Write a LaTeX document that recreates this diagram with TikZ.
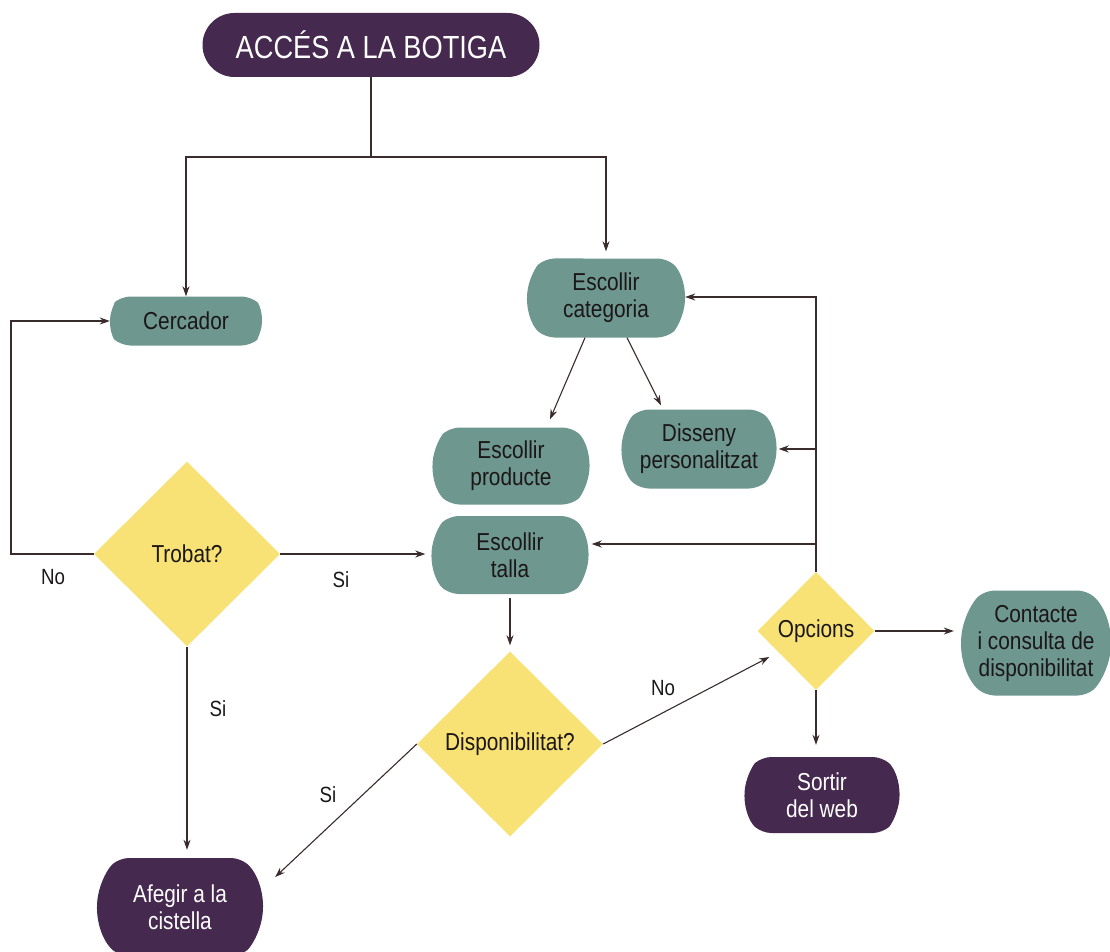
\documentclass[tikz,border=0pt]{standalone}
\usepackage{fontspec}
\setmainfont[FakeStretch=0.85]{Liberation Sans}
\usetikzlibrary{shapes.geometric,shapes.misc,arrows.meta}

\definecolor{plum}{HTML}{46294F}
\definecolor{sage}{HTML}{6E978F}
\definecolor{sun}{HTML}{F8E276}
\definecolor{ink}{HTML}{1B1717}
\definecolor{wire}{HTML}{3A2C2C}

\tikzset{
  every node/.style={font=\fontsize{24.5}{27}\selectfont, align=center, inner sep=0pt},
  boxshape/.style={rounded rectangle, rounded rectangle arc length=100, rounded corners=9pt, draw=none},
  tealbox/.style={boxshape, fill=sage, text=ink},
  plumbox/.style={boxshape, fill=plum, text=white},
  decision/.style={diamond, fill=sun, text=ink, minimum width=186pt, minimum height=185pt},
  arrow/.style={draw=wire, line width=1.1pt, rounded corners=0pt, -{Stealth[length=10pt, width=7pt]}},
  link/.style={draw=wire, line width=1.1pt},
  lbl/.style={text=ink, font=\fontsize{22}{24}\selectfont}
}

\begin{document}
\begin{tikzpicture}[x=1pt, y=-1pt]
\useasboundingbox (0,0) rectangle (1110,952);

% start terminal
\node[rounded rectangle, fill=plum, text=white, minimum width=337pt, minimum height=64pt,
      font=\fontsize{32}{34}\selectfont] (start) at (371,45) {ACCÉS A LA BOTIGA};

% process boxes
\node[tealbox, minimum width=152pt, minimum height=49pt] (cerc) at (186,321) {Cercador};
\node[tealbox, minimum width=158pt, minimum height=79pt] (cat) at (606,298) {Escollir\\categoria};
\node[tealbox, minimum width=157pt, minimum height=77pt] (prod) at (511,466) {Escollir\\producte};
\node[tealbox, minimum width=155pt, minimum height=79pt] (dis) at (699,449) {Disseny\\personalitzat};
\node[tealbox, minimum width=157pt, minimum height=78pt] (talla) at (510,555) {Escollir\\talla};
\node[tealbox, minimum width=150pt, minimum height=105pt] (cont) at (1036,643) {Contacte\\i consulta de\\disponibilitat};
\node[plumbox, minimum width=155pt, minimum height=76pt] (sortir) at (822,795) {Sortir\\del web};
\node[plumbox, minimum width=166pt, minimum height=98pt] (afegir) at (180,907) {Afegir a la\\cistella};

% decisions
\node[decision] (trobat) at (187,554) {Trobat?};
\node[decision] (disp) at (510,744) {Disponibilitat?};
\node[decision, minimum width=117pt, minimum height=118pt] (opc) at (816,631) {Opcions};

% junctions
\coordinate (split) at (371,157);
\coordinate (noturn) at (11,554);
\coordinate (back) at (816,544);

% connectors
\draw[link] (start.south) -- (split);
\draw[arrow] (split) -| (cerc.north);
\draw[arrow, shorten >=7pt] (split) -| (cat.north);
\draw[arrow] (trobat.west) -- (noturn) |- (cerc.west);
\draw[arrow, shorten >=6pt] (trobat.east) -- (trobat.east -| talla.west);
\draw[arrow, shorten >=8pt] (trobat.south) -- (trobat.south |- afegir.north);
\draw[arrow] ([shift={(-21,0)}]cat.south) -- ([shift={(39,-8)}]prod.north);
\draw[arrow] ([shift={(21,0)}]cat.south) -- ([shift={(-38,-4)}]dis.north);
\draw[arrow, shorten >=6pt] ([shift={(0,4)}]talla.south) -- (disp.north);
\draw[arrow] (disp.west) -- ([shift={(12,-30)}]afegir.east);
\draw[arrow] (disp.east) -- ([shift={(12,26)}]opc.west);
\draw[arrow] (opc.north) |- ([shift={(0,-1)}]cat.east);
\draw[arrow, shorten >=2pt] (opc.north |- dis.east) -- (dis.east);
\draw[arrow, shorten >=3pt] (back) -- (back -| talla.east);
\draw[arrow, shorten >=7pt] (opc.east) -- (opc.east -| cont.west);
\draw[arrow, shorten >=12pt] (opc.south) -- (opc.south |- sortir.north);

% branch labels
\node[lbl] (lno1) at (53,577) {No};
\node[lbl] (lsi1) at (341,580) {Si};
\node[lbl] (lsi2) at (218,709) {Si};
\node[lbl] (lsi3) at (328,795) {Si};
\node[lbl] (lno2) at (663,688) {No};
\end{tikzpicture}
\end{document}
